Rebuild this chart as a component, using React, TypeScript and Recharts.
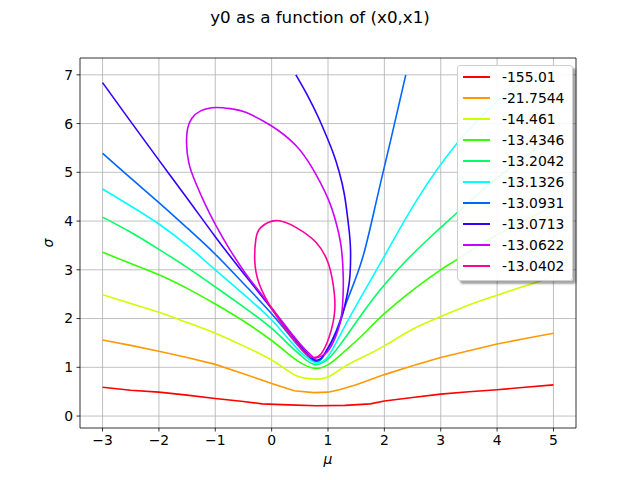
import { LineChart, Line, XAxis, YAxis, CartesianGrid, Legend, ReferenceLine } from 'recharts';

type Pt = [number, number];

const levels = ['-155.01', '-21.7544', '-14.461', '-13.4346', '-13.2042', '-13.1326', '-13.0931', '-13.0713', '-13.0622', '-13.0402'];
const colors = ['#ff0000', '#ff9900', '#ccff00', '#33ff00', '#00ff66', '#00ffff', '#0066ff', '#3300ff', '#cc00ff', '#ff0099'];
const xTicks = [-3, -2, -1, 0, 1, 2, 3, 4, 5];
const yTicks = [0, 1, 2, 3, 4, 5, 6, 7];
const xDomain: Pt = [-3.4, 5.4];
const yDomain: Pt = [-0.245, 7.345];

// (mu, sigma) points
const c0: Pt[] = [[-3, 0.59], [-2.5, 0.53], [-2, 0.49], [-1.5, 0.43], [-1, 0.36], [-0.5, 0.3], [-0.17, 0.25], [0.3, 0.23], [0.8, 0.21], [1.3, 0.22], [1.75, 0.25], [2, 0.31], [2.5, 0.38], [3, 0.45], [3.5, 0.5], [4, 0.54], [4.5, 0.59], [5, 0.64]];
const c1: Pt[] = [[-3, 1.56], [-2.5, 1.45], [-2, 1.33], [-1.5, 1.2], [-1, 1.06], [-0.5, 0.87], [0, 0.67], [0.4, 0.52], [0.75, 0.48], [1, 0.49], [1.2, 0.54], [1.5, 0.64], [2, 0.85], [2.5, 1.03], [3, 1.2], [3.5, 1.34], [4, 1.48], [4.5, 1.59], [5, 1.7]];
const c2: Pt[] = [[-3, 2.49], [-2.5, 2.31], [-2, 2.13], [-1.5, 1.92], [-1, 1.7], [-0.5, 1.44], [0, 1.15], [0.3, 0.92], [0.5, 0.8], [0.75, 0.76], [1, 0.8], [1.3, 1.02], [1.6, 1.2], [2, 1.44], [2.5, 1.78], [3, 2.04], [3.5, 2.28], [4, 2.48], [4.5, 2.67], [5, 2.86]];
const c3: Pt[] = [[-3, 3.36], [-2.5, 3.13], [-2, 2.9], [-1.5, 2.62], [-1, 2.3], [-0.5, 1.95], [0, 1.55], [0.3, 1.27], [0.5, 1.1], [0.75, 0.98], [1, 1.05], [1.25, 1.28], [1.5, 1.54], [1.7, 1.76], [2, 2.1], [2.5, 2.58], [3, 3.0], [3.3, 3.22], [4, 3.72], [5, 4.3]];
const c4: Pt[] = [[-3, 4.08], [-2.5, 3.77], [-2, 3.42], [-1.5, 3.05], [-1, 2.65], [-0.5, 2.24], [0, 1.8], [0.3, 1.47], [0.5, 1.26], [0.75, 1.06], [1, 1.17], [1.2, 1.44], [1.4, 1.76], [1.65, 2.17], [1.92, 2.58], [2.22, 2.98], [2.5, 3.32], [2.86, 3.72], [3.28, 4.16], [4, 4.88], [5, 5.75]];
const c5: Pt[] = [[-3, 4.66], [-2.5, 4.31], [-2, 3.94], [-1.5, 3.5], [-1, 3.0], [-0.5, 2.5], [0, 1.97], [0.4, 1.45], [0.75, 1.11], [1, 1.22], [1.26, 1.76], [1.6, 2.47], [2, 3.28], [2.57, 4.42], [3.28, 5.58], [4, 6.45], [4.6, 7.0]];
const c6: Pt[] = [[-3, 5.39], [-2.5, 4.88], [-2, 4.38], [-1.5, 3.86], [-1, 3.32], [-0.5, 2.72], [0, 2.1], [0.4, 1.54], [0.75, 1.14], [0.95, 1.28], [1.15, 1.76], [1.35, 2.4], [1.61, 3.23], [1.86, 4.42], [2.1, 5.6], [2.38, 7.0]];
const c7: Pt[] = [[-3, 6.84], [-2.5, 6.04], [-2, 5.25], [-1.5, 4.47], [-1, 3.68], [-0.5, 2.93], [0, 2.2], [0.4, 1.6], [0.75, 1.16], [0.95, 1.3], [1.12, 1.65], [1.26, 2.09], [1.35, 2.55], [1.39, 2.88], [1.4, 3.4], [1.38, 3.75], [1.35, 4.05], [1.29, 4.55], [1.2, 5.0], [1.1, 5.37], [0.97, 5.75], [0.82, 6.15], [0.64, 6.57], [0.43, 7.0]];
const c8: Pt[] = [[0.76, 1.18], [0.55, 1.42], [0.3, 1.77], [0, 2.22], [-0.25, 2.6], [-0.46, 2.92], [-0.75, 3.43], [-0.99, 3.91], [-1.17, 4.32], [-1.35, 4.79], [-1.47, 5.2], [-1.51, 5.61], [-1.49, 5.9], [-1.42, 6.1], [-1.26, 6.26], [-0.98, 6.33], [-0.7, 6.3], [-0.46, 6.23], [0, 5.95], [0.43, 5.55], [0.73, 5.07], [1.0, 4.46], [1.14, 3.98], [1.23, 3.5], [1.27, 2.88], [1.26, 2.3], [1.2, 1.85], [1.05, 1.42], [0.9, 1.24], [0.76, 1.18]];
const c9: Pt[] = [[0.76, 1.2], [0.61, 1.28], [0.31, 1.69], [0.02, 2.17], [-0.22, 2.71], [-0.3, 3.2], [-0.28, 3.63], [-0.19, 3.87], [0.08, 4.01], [0.43, 3.87], [0.79, 3.56], [1.0, 3.15], [1.09, 2.71], [1.12, 2.17], [1.02, 1.62], [0.88, 1.28], [0.76, 1.2]];

const contours = [c0, c1, c2, c3, c4, c5, c6, c7, c8, c9];
// the outer levels keep their angular grid segments, the inner ones are smooth
const curveTypes = ['linear', 'linear', 'natural', 'natural', 'natural', 'natural', 'natural', 'natural', 'natural', 'natural'] as const;

const font = 'DejaVu Sans, sans-serif';
const tickStyle = { fontSize: 13.9, fill: '#000', fontFamily: font };
const axisLine = { stroke: '#000', strokeWidth: 0.8 };
const fmt = (v: number) => String(v).replace('-', '\u2212');

function ContourLegend() {
  return (
    <div
      style={{
        background: 'rgba(255,255,255,0.9)',
        border: '1px solid #d0d0d0',
        borderRadius: 3,
        boxShadow: '3px 3px 2px rgba(0,0,0,0.35)',
        padding: '0px 8px 4px 5px',
        fontFamily: font,
        fontSize: 13.9,
      }}
    >
      {levels.map((lvl, i) => (
        <div key={lvl} style={{ display: 'flex', alignItems: 'center', height: 21 }}>
          <span style={{ display: 'inline-block', width: 27, height: 0, borderTop: `2px solid ${colors[i]}`, marginRight: 12 }} />
          <span>{lvl}</span>
        </div>
      ))}
    </div>
  );
}

export default function App() {
  return (
    <div style={{ position: 'absolute', left: 0, top: 0, width: 640, height: 480, background: '#fff', fontFamily: font }}>
      <div style={{ position: 'absolute', top: 7, width: 640, textAlign: 'center', fontSize: 16.7 }}>y0 as a function of (x0,x1)</div>
      <LineChart width={640} height={480} margin={{ top: 58, right: 64, bottom: 0, left: 0 }}>
        <CartesianGrid stroke="#b0b0b0" strokeWidth={0.8} horizontalValues={yTicks} verticalValues={xTicks} />
        <XAxis
          dataKey="mu"
          type="number"
          domain={xDomain}
          ticks={xTicks}
          tickFormatter={fmt}
          tick={tickStyle}
          tickSize={3.5}
          tickMargin={3.5}
          axisLine={axisLine}
          tickLine={axisLine}
          height={52}
          allowDataOverflow
          label={{
            content: () => (
              <text x={328} y={464} textAnchor="middle" fontFamily={font} fontStyle="italic" fontSize={13.9} fill="#000">μ</text>
            ),
          }}
        />
        <YAxis
          dataKey="sigma"
          type="number"
          domain={yDomain}
          ticks={yTicks}
          tickFormatter={fmt}
          tick={tickStyle}
          tickSize={3.5}
          tickMargin={3.5}
          axisLine={axisLine}
          tickLine={axisLine}
          width={80}
          allowDataOverflow
          label={{
            content: () => (
              <text x={48} y={243} transform="rotate(-90 48 243)" textAnchor="middle" dominantBaseline="central" fontFamily={font} fontStyle="italic" fontSize={13.9} fill="#000">σ</text>
            ),
          }}
        />
        <ReferenceLine x={xDomain[1]} stroke="#000" strokeWidth={0.8} />
        <ReferenceLine y={yDomain[1]} stroke="#000" strokeWidth={0.8} />
        <Legend
          layout="horizontal"
          verticalAlign="middle"
          align="center"
          content={() => <ContourLegend />}
          wrapperStyle={{ position: 'absolute', left: 457, top: 65, width: 'auto', height: 'auto' }}
        />
        {contours.map((pts, i) => (
          <Line
            key={levels[i]}
            name={levels[i]}
            data={pts.map(([mu, sigma]) => ({ mu, sigma }))}
            dataKey="sigma"
            stroke={colors[i]}
            strokeWidth={1.6}
            dot={false}
            type={curveTypes[i]}
            isAnimationActive={false}
          />
        ))}
      </LineChart>
    </div>
  );
}
